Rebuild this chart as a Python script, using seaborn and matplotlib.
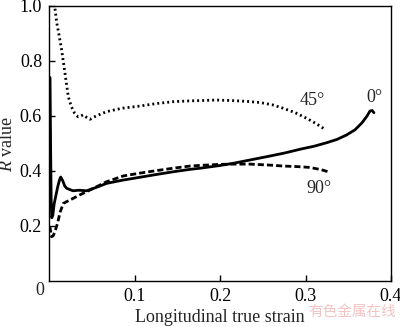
import numpy as np
import pandas as pd
import matplotlib
matplotlib.use("Agg")
import matplotlib.pyplot as plt
import seaborn as sns

# 0 deg (solid)
x0 = [0.0012, 0.0016, 0.0020, 0.0025, 0.0032, 0.0045, 0.006, 0.008, 0.010, 0.0125, 0.0137, 0.016, 0.0185,
      0.0207, 0.024, 0.028, 0.035, 0.044, 0.055, 0.0675, 0.085, 0.106, 0.125, 0.145, 0.165, 0.1766,
      0.20, 0.2156, 0.235, 0.2546, 0.275, 0.295, 0.310, 0.325, 0.337, 0.348, 0.358, 0.366, 0.372,
      0.3754, 0.378, 0.380]
r0 = [0.74, 0.60, 0.45, 0.30, 0.23, 0.24, 0.28, 0.31, 0.34, 0.37, 0.378, 0.365, 0.345,
      0.337, 0.333, 0.328, 0.330, 0.328, 0.340, 0.355, 0.366, 0.377, 0.387, 0.397, 0.406, 0.41,
      0.420, 0.428, 0.440, 0.452, 0.465, 0.480, 0.490, 0.503, 0.515, 0.531, 0.550, 0.575, 0.600,
      0.618, 0.620, 0.612]

# 45 deg (dotted)
x45 = [0.007, 0.009, 0.011, 0.0148, 0.0187, 0.0226, 0.026, 0.030, 0.034, 0.037, 0.040, 0.044, 0.048,
       0.055, 0.0675, 0.085, 0.106, 0.125, 0.145, 0.165, 0.177, 0.196, 0.215, 0.232, 0.247, 0.262,
       0.274, 0.288, 0.301, 0.312, 0.321]
r45 = [0.99, 0.94, 0.907, 0.84, 0.755, 0.67, 0.635, 0.61, 0.597, 0.60, 0.604, 0.595, 0.588,
       0.60, 0.616, 0.628, 0.636, 0.645, 0.652, 0.655, 0.656, 0.658, 0.656, 0.653, 0.649, 0.640,
       0.628, 0.612, 0.592, 0.573, 0.555]

# 90 deg (dashed)
x90 = [0.001, 0.003, 0.005, 0.007, 0.010, 0.013, 0.0167, 0.0246, 0.028, 0.036, 0.048, 0.0675, 0.087,
       0.106, 0.125, 0.145, 0.165, 0.18, 0.20, 0.215, 0.235, 0.255, 0.274, 0.29, 0.305, 0.318, 0.3267]
r90 = [0.198, 0.161, 0.165, 0.18, 0.21, 0.25, 0.282, 0.295, 0.30, 0.313, 0.331, 0.361, 0.382,
       0.392, 0.401, 0.41, 0.418, 0.421, 0.424, 0.425, 0.425, 0.422, 0.418, 0.416, 0.413, 0.405, 0.397]

xticks = [0.1, 0.2, 0.3, 0.4]
yticks = [0.2, 0.4, 0.6, 0.8, 1.0]

sns.set_theme(style="ticks")
plt.rcParams['font.family'] = ['Liberation Serif', 'DejaVu Serif']
plt.rcParams['mathtext.fontset'] = 'custom'
plt.rcParams['mathtext.it'] = 'Liberation Serif:italic'
plt.rcParams['mathtext.rm'] = 'Liberation Serif'

fig = plt.figure(figsize=(4.0, 3.27), dpi=100)
ax = fig.add_axes([0.1225, 0.1407, 0.855, 0.8410])

df0 = pd.DataFrame({"x": x0, "r": r0})
df45 = pd.DataFrame({"x": x45, "r": r45})
df90 = pd.DataFrame({"x": x90, "r": r90})

sns.lineplot(data=df0, x="x", y="r", ax=ax, sort=False, color="black", lw=2.0, estimator=None)
sns.lineplot(data=df45, x="x", y="r", ax=ax, sort=False, color="black", lw=2.0, estimator=None,
             linestyle=(0, (0.7, 1.1)))
sns.lineplot(data=df90, x="x", y="r", ax=ax, sort=False, color="black", lw=2.0, estimator=None,
             linestyle=(0, (2.2, 1.1)))

fs = 13
ax.set_xlim(0, 0.4)
ax.set_ylim(0, 1.0)
ax.set_xticks(xticks)
ax.set_xticklabels(["0.1", "0.2", "0.3", "0.4"])
ax.set_yticks(yticks)
ax.set_yticklabels(["0.2", "0.4", "0.6", "0.8", "1.0"])
ax.tick_params(direction="in", length=4, width=1, labelsize=fs, colors="black", pad=5)
for s in ax.spines.values():
    s.set_linewidth(1.0)
    s.set_color("black")

ax.text(-0.011, -0.003, "0", ha="center", va="top", fontsize=fs, transform=ax.transData, clip_on=False)

ax.set_xlabel("Longitudinal true strain", fontsize=fs, labelpad=3)
ax.set_ylabel(r"$R$ value", fontsize=fs, labelpad=3)

ax.text(0.308, 0.655, "45°", fontsize=fs, ha="center", va="center")
ax.text(0.381, 0.668, "0°", fontsize=fs, ha="center", va="center")
ax.text(0.316, 0.338, "90°", fontsize=fs, ha="center", va="center")

fig.text(0.88, 0.046, "有色金属在线", fontsize=10.5, color="#f2c4c4",
         family=['Noto Sans CJK SC', 'DejaVu Sans'], ha="center", va="center")

fig.savefig("out.png", dpi=100)
